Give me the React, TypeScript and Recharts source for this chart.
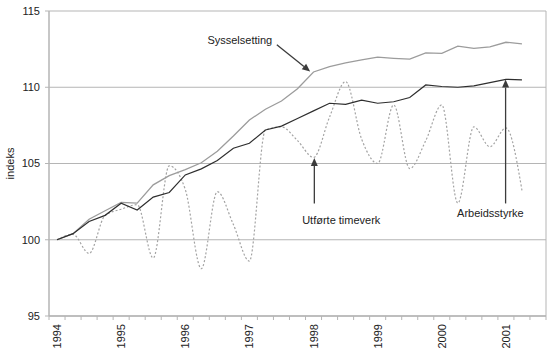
import React from 'react';
import { LineChart, Line, XAxis, YAxis, CartesianGrid, ReferenceLine, ReferenceDot } from 'recharts';

// Quarterly index, 1994K1 = 100
const years = ['1994', '1995', '1996', '1997', '1998', '1999', '2000', '2001'];
const quartersPerYear = 4;
const quarterCount = 31; // 1994K1 .. 2001K3 (last slot empty)

const sysselsetting = [
  100.0, 100.4, 101.35, 101.9, 102.45, 102.4, 103.6, 104.2, 104.6, 105.05,
  105.8, 106.8, 107.85, 108.56, 109.1, 109.9, 111.0, 111.35, 111.6, 111.8,
  111.97, 111.9, 111.85, 112.25, 112.22, 112.7, 112.55, 112.65, 112.95, 112.85,
];
const arbeidsstyrke = [
  100.0, 100.4, 101.2, 101.6, 102.4, 101.95, 102.8, 103.1, 104.25, 104.65,
  105.2, 106.0, 106.33, 107.2, 107.45, 107.95, 108.45, 108.95, 108.88, 109.15,
  108.95, 109.05, 109.33, 110.15, 110.05, 110.0, 110.09, 110.3, 110.52, 110.48,
];
const timeverk = [
  100.0, 100.35, 99.1, 101.6, 102.0, 102.3, 98.8, 104.85, 103.3, 98.1,
  103.15, 101.0, 98.6, 107.2, 107.4, 106.5, 105.4, 108.05, 110.37, 106.6,
  105.0, 108.84, 104.67, 106.5, 108.84, 102.4, 107.4, 106.1, 107.33, 103.24,
];

const yTicks = [95, 100, 105, 110, 115];

const notes = [
  { text: 'Sysselsetting', x: 11.4, y: 113.07 },
  { text: 'Utførte timeverk', x: 17.73, y: 101.28 },
  { text: 'Arbeidsstyrke', x: 27.03, y: 101.76 },
];
const arrows = [
  { from: { x: 13.71, y: 112.79 }, to: { x: 15.79, y: 111.03 } },
  { from: { x: 16.05, y: 102.38 }, to: { x: 16.05, y: 105.36 } },
  { from: { x: 27.98, y: 102.38 }, to: { x: 27.98, y: 110.51 } },
];

const data = Array.from({ length: quarterCount }, (_, i) => ({
  i,
  sys: sysselsetting[i],
  arb: arbeidsstyrke[i],
  tim: timeverk[i],
}));

const boundaryTicks = Array.from({ length: quarterCount + 1 }, (_, k) => k - 0.5);
const yearTicks = years.map((_, k) => k * quartersPerYear);
const xTicks = [...boundaryTicks, ...yearTicks].sort((a, b) => a - b);

const FONT = '"Liberation Sans", Arial, sans-serif';
const GRID = '#b5b5b5';
const TEXT = '#222222';
const X_TICK_SIZE = 4;
const X_TICK_MARGIN = 4;

const XTick = (props: any) => {
  const { x, y, payload } = props;
  const v = payload.value as number;
  const axisY = y - X_TICK_SIZE - X_TICK_MARGIN;
  if (!Number.isInteger(v)) {
    return <line x1={x} y1={axisY} x2={x} y2={axisY + X_TICK_SIZE} stroke={GRID} strokeWidth={1} />;
  }
  const label = years[v / quartersPerYear];
  return (
    <text
      x={x}
      y={y}
      transform={`rotate(-90 ${x} ${y})`}
      textAnchor="end"
      dominantBaseline="central"
      fontSize={11}
      fill={TEXT}
      fontFamily={FONT}
    >
      {label}
    </text>
  );
};

const ArrowShape = (props: any) => {
  const { x1, y1, x2, y2 } = props;
  if ([x1, y1, x2, y2].some((n) => n == null || isNaN(n))) return null;
  const dx = x2 - x1;
  const dy = y2 - y1;
  const len = Math.hypot(dx, dy) || 1;
  const ux = dx / len;
  const uy = dy / len;
  const hl = 8;
  const hw = 3.5;
  const bx = x2 - ux * hl;
  const by = y2 - uy * hl;
  return (
    <g>
      <line x1={x1} y1={y1} x2={bx} y2={by} stroke="#3c3c3c" strokeWidth={1.3} />
      <polygon
        points={`${x2},${y2} ${bx - uy * hw},${by + ux * hw} ${bx + uy * hw},${by - ux * hw}`}
        fill="#3c3c3c"
      />
    </g>
  );
};

export default function App() {
  return (
    <div style={{ position: 'absolute', left: 0, top: 0, background: '#fff' }}>
      <LineChart
        width={550}
        height={359}
        data={data}
        margin={{ top: 11, right: 4, bottom: 0, left: 0 }}
        style={{ fontFamily: FONT }}
      >
        <CartesianGrid horizontal vertical={false} stroke={GRID} strokeWidth={1} />
        <XAxis
          dataKey="i"
          type="number"
          domain={[-0.5, quarterCount - 0.5]}
          ticks={xTicks}
          interval={0}
          allowDataOverflow
          height={43}
          tickSize={X_TICK_SIZE}
          tickMargin={X_TICK_MARGIN}
          tickLine={false}
          axisLine={{ stroke: GRID, strokeWidth: 1.5 }}
          tick={<XTick />}
        />
        <YAxis
          domain={[95, 115]}
          ticks={yTicks}
          interval={0}
          width={49}
          tickSize={4}
          tickMargin={5}
          tickLine={{ stroke: GRID }}
          axisLine={{ stroke: GRID, strokeWidth: 1.5 }}
          tick={{ fontSize: 11, fill: TEXT, fontFamily: FONT }}
          label={{
            value: 'indeks',
            angle: -90,
            position: 'insideLeft',
            offset: 10,
            fontSize: 11,
            fill: TEXT,
            style: { textAnchor: 'middle', fontFamily: FONT },
          }}
        />
        <ReferenceLine x={quarterCount - 0.5} stroke={GRID} strokeWidth={1} />
        <Line
          dataKey="tim"
          type="monotone"
          stroke="#a3a3a3"
          strokeWidth={1.2}
          strokeDasharray="2 2"
          dot={false}
          isAnimationActive={false}
        />
        <Line
          dataKey="sys"
          type="linear"
          stroke="#9c9c9c"
          strokeWidth={1.3}
          dot={false}
          isAnimationActive={false}
        />
        <Line
          dataKey="arb"
          type="linear"
          stroke="#2e2e2e"
          strokeWidth={1.2}
          dot={false}
          isAnimationActive={false}
        />
        {arrows.map((a, k) => (
          <ReferenceLine key={`a${k}`} segment={[a.from, a.to]} shape={<ArrowShape />} />
        ))}
        {notes.map((n) => (
          <ReferenceDot
            key={n.text}
            x={n.x}
            y={n.y}
            r={0}
            fill="none"
            stroke="none"
            label={{ value: n.text, position: 'center', fontSize: 11, fill: TEXT, fontFamily: FONT }}
          />
        ))}
      </LineChart>
    </div>
  );
}
